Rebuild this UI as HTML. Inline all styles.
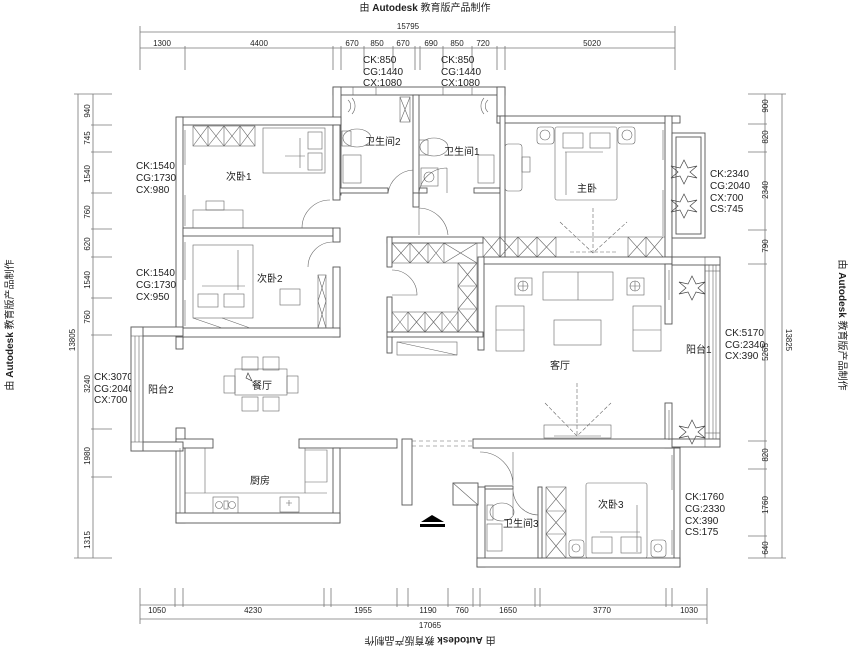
<!DOCTYPE html>
<html><head><meta charset="utf-8"><style>
html,body{margin:0;padding:0;background:#fff;}
svg{display:block;}
text{font-family:"Liberation Sans","Noto Sans CJK SC",sans-serif;fill:#222;}
.cn{font-family:"Noto Serif CJK SC","Liberation Serif",serif;font-size:10px;fill:#333;}
.d{font-size:8px;fill:#333;}
.ck{font-size:10px;fill:#222;}
</style></head><body>
<svg width="850" height="646" viewBox="0 0 850 646" xmlns="http://www.w3.org/2000/svg">
<g fill="none" stroke="#777" stroke-width="0.8">
<!-- top dims -->
<line x1="140" y1="32" x2="675" y2="32"/>
<line x1="140" y1="48" x2="675" y2="48"/>
<path d="M140 26V70M675 26V70M185 46V70M333 46V70M341 46V70M364 46V70M393 46V70M415 46V70M420 46V70M443 46V70M472 46V70M497 46V70M505 46V70"/>
<!-- bottom dims -->
<line x1="140" y1="605" x2="707" y2="605"/>
<line x1="140" y1="619" x2="707" y2="619"/>
<path d="M140 588V624M707 588V624M175 588V607M183 588V607M324 588V607M331 588V607M397 588V607M408 588V607M448 588V607M473 588V607M480 588V607M535 588V607M540 588V607M666 588V607M672 588V607"/>
<!-- left dims -->
<line x1="78" y1="94" x2="78" y2="558"/>
<line x1="93" y1="94" x2="93" y2="558"/>
<path d="M74 94H112M74 558H112M91 125H112M91 152H112M91 193H112M91 229H112M91 257H112M91 298H112M91 335H112M91 429H112M91 477H112"/>
<!-- right dims -->
<line x1="782" y1="94" x2="782" y2="558"/>
<line x1="765" y1="94" x2="765" y2="558"/>
<path d="M748 94H786M748 558H786M748 124H767M748 152H767M748 230H767M748 264H767M748 441H767M748 469H767M748 536H767"/>
</g>
<g class="d" text-anchor="middle">
<text x="408" y="29">15795</text>
<text x="162" y="46">1300</text><text x="259" y="46">4400</text>
<text x="352" y="46">670</text><text x="377" y="46">850</text><text x="403" y="46">670</text>
<text x="431" y="46">690</text><text x="457" y="46">850</text><text x="483" y="46">720</text>
<text x="592" y="46">5020</text>
<text x="157" y="613">1050</text><text x="253" y="613">4230</text><text x="363" y="613">1955</text>
<text x="428" y="613">1190</text><text x="462" y="613">760</text><text x="508" y="613">1650</text>
<text x="602" y="613">3770</text><text x="689" y="613">1030</text>
<text x="430" y="628">17065</text>
</g>
<g class="d" text-anchor="middle">
<text transform="translate(90,111) rotate(-90)">940</text>
<text transform="translate(90,138) rotate(-90)">745</text>
<text transform="translate(90,174) rotate(-90)">1540</text>
<text transform="translate(90,212) rotate(-90)">760</text>
<text transform="translate(90,244) rotate(-90)">620</text>
<text transform="translate(90,280) rotate(-90)">1540</text>
<text transform="translate(90,317) rotate(-90)">760</text>
<text transform="translate(90,384) rotate(-90)">3240</text>
<text transform="translate(90,456) rotate(-90)">1980</text>
<text transform="translate(90,540) rotate(-90)">1315</text>
<text transform="translate(75,340) rotate(-90)">13805</text>
<text transform="translate(768,106) rotate(-90)">900</text>
<text transform="translate(768,137) rotate(-90)">820</text>
<text transform="translate(768,190) rotate(-90)">2340</text>
<text transform="translate(768,246) rotate(-90)">790</text>
<text transform="translate(768,352) rotate(-90)">5265</text>
<text transform="translate(768,455) rotate(-90)">820</text>
<text transform="translate(768,505) rotate(-90)">1760</text>
<text transform="translate(768,548) rotate(-90)">640</text>
<text transform="translate(786,340) rotate(90)">13825</text>
</g>
<!-- watermarks -->
<g font-size="10" text-anchor="middle">
<text x="425" y="11"><tspan>由 </tspan><tspan font-weight="bold">Autodesk</tspan><tspan> 教育版产品制作</tspan></text>
<text transform="translate(430,637) rotate(180)"><tspan>由 </tspan><tspan font-weight="bold">Autodesk</tspan><tspan> 教育版产品制作</tspan></text>
<text transform="translate(13,325) rotate(-90)"><tspan>由 </tspan><tspan font-weight="bold">Autodesk</tspan><tspan> 教育版产品制作</tspan></text>
<text transform="translate(839,325) rotate(90)"><tspan>由 </tspan><tspan font-weight="bold">Autodesk</tspan><tspan> 教育版产品制作</tspan></text>
</g>
<!-- CK labels -->
<g class="ck">
<text x="363" y="63">CK:850</text><text x="363" y="75">CG:1440</text><text x="363" y="86">CX:1080</text>
<text x="441" y="63">CK:850</text><text x="441" y="75">CG:1440</text><text x="441" y="86">CX:1080</text>
<text x="136" y="169">CK:1540</text><text x="136" y="181">CG:1730</text><text x="136" y="193">CX:980</text>
<text x="136" y="276">CK:1540</text><text x="136" y="288">CG:1730</text><text x="136" y="300">CX:950</text>
<text x="94" y="380">CK:3070</text><text x="94" y="392">CG:2040</text><text x="94" y="403">CX:700</text>
<text x="710" y="177">CK:2340</text><text x="710" y="189">CG:2040</text><text x="710" y="201">CX:700</text><text x="710" y="212">CS:745</text>
<text x="725" y="336">CK:5170</text><text x="725" y="348">CG:2340</text><text x="725" y="359">CX:390</text>
<text x="685" y="500">CK:1760</text><text x="685" y="512">CG:2330</text><text x="685" y="524">CX:390</text><text x="685" y="535">CS:175</text>
</g>
<!-- walls -->
<g fill="#fff" stroke="#555" stroke-width="0.9">
<rect x="333" y="87" width="172" height="8"/>
<rect x="333" y="87" width="8" height="108"/>
<rect x="413" y="95" width="6" height="98"/>
<rect x="497" y="87" width="8" height="36"/>
<rect x="497" y="116" width="183" height="7"/>
<rect x="177" y="117" width="164" height="8"/>
<rect x="176" y="117" width="7" height="232"/>
<rect x="183" y="228" width="150" height="8"/>
<rect x="333" y="125" width="7" height="75"/>
<rect x="333" y="228" width="7" height="14"/>
<rect x="333" y="267" width="7" height="70"/>
<rect x="176" y="328" width="164" height="9"/>
<rect x="340" y="188" width="48" height="5"/>
<rect x="419" y="188" width="8" height="5"/>
<rect x="474" y="188" width="26" height="5"/>
<rect x="413" y="193" width="6" height="14"/>
<rect x="500" y="116" width="5" height="141"/>
<rect x="665" y="116" width="7" height="141"/>
<rect x="483" y="257" width="189" height="7"/>
<rect x="478" y="257" width="6" height="93"/>
<rect x="665" y="264" width="7" height="60"/>
<rect x="665" y="403" width="7" height="45"/>
<rect x="387" y="237" width="96" height="6"/>
<rect x="387" y="237" width="5" height="30"/>
<rect x="387" y="297" width="5" height="56"/>
<rect x="387" y="332" width="96" height="5"/>
<rect x="176" y="428" width="9" height="95"/>
<rect x="176" y="439" width="37" height="9"/>
<rect x="299" y="439" width="98" height="9"/>
<rect x="333" y="448" width="7" height="75"/>
<rect x="176" y="513" width="164" height="10"/>
<rect x="402" y="439" width="10" height="66"/>
<rect x="473" y="439" width="207" height="9"/>
<rect x="477" y="487" width="8" height="80"/>
<rect x="674" y="448" width="6" height="119"/>
<rect x="477" y="558" width="203" height="9"/>
<rect x="453" y="483" width="25" height="22"/>
<rect x="538" y="487" width="4" height="71"/>
<rect x="485" y="486" width="28" height="3"/>
<!-- balcony 2 -->
<rect x="131" y="327" width="52" height="9"/>
<rect x="131" y="442" width="52" height="9"/>
<rect x="131" y="327" width="12" height="124"/>
<!-- balcony 1 -->
<rect x="705" y="257" width="15" height="190"/>
<rect x="672" y="257" width="48" height="8"/>
<rect x="672" y="439" width="48" height="8"/>
<!-- master balcony -->
<rect x="672" y="133" width="33" height="105"/>
<rect x="676" y="137" width="25" height="97"/>
</g>
<g fill="none" stroke="#666" stroke-width="0.6">
<path d="M135 336V442M139 336V442M709 265V439M713 265V439M716 265V439M185 448V513M180 448V513"/>
<rect x="705" y="257" width="15" height="14"/><rect x="705" y="433" width="15" height="14"/>
<rect x="131" y="327" width="12" height="9"/><rect x="131" y="442" width="12" height="9"/>
<!-- dashed entrance -->
<path d="M412 441H473M412 446H473" stroke-dasharray="4,3"/>
<!-- kitchen inner counters -->
<path d="M205 448V493H305V448M305 450H327V482H305"/>
<path d="M185 493H205M305 493H327"/>
<rect x="213" y="497" width="25" height="16"/>
<circle cx="219" cy="505" r="3.5"/><circle cx="232" cy="505" r="3.5"/><rect x="224" y="501" width="4" height="8"/>
<rect x="280" y="497" width="19" height="15"/><path d="M289 500V506M286 503H292"/>
<!-- dining -->
<rect x="235" y="369" width="52" height="26"/>
<rect x="242" y="357" width="16" height="13"/><rect x="263" y="357" width="16" height="13"/>
<rect x="242" y="397" width="16" height="14"/><rect x="263" y="397" width="16" height="14"/>
<rect x="224" y="376" width="11" height="17"/><rect x="287" y="376" width="11" height="17"/>
<!-- bedroom 1 -->
<rect x="193" y="126" width="62" height="20"/>
<path d="M193 126L208 146M208 126L193 146M208 126L224 146M224 126L208 146M224 126L240 146M240 126L224 146M240 126L255 146M255 126L240 146M208 126V146M224 126V146M240 126V146"/>
<rect x="263" y="128" width="62" height="45"/>
<rect x="308" y="132" width="14" height="17"/><rect x="308" y="153" width="14" height="17"/>
<path d="M300 138V168M285 156H305"/>
<rect x="193" y="210" width="50" height="18"/><rect x="206" y="201" width="18" height="9"/>
<path d="M185 130V165M185 195V226"/>
<path d="M330 200A28 28 0 0 0 302 228" /><path d="M333 242A25 25 0 0 0 308 267"/>
<!-- bedroom 2 -->
<rect x="193" y="245" width="60" height="73"/>
<rect x="198" y="294" width="20" height="13"/><rect x="224" y="294" width="20" height="13"/>
<path d="M238 250V290M202 286H245M193 318L222 328M222 318L250 328"/>
<rect x="280" y="289" width="20" height="16"/>
<rect x="318" y="275" width="8" height="53"/>
<path d="M318 275L326 301M326 275L318 301M318 301L326 328M326 301L318 328"/>
<path d="M185 242V280M185 300V326"/>
<!-- bathrooms -->
<ellipse cx="357" cy="138" rx="14" ry="9"/><rect x="342" y="131" width="9" height="15"/>
<rect x="343" y="155" width="18" height="28"/>
<ellipse cx="434" cy="147" rx="14" ry="9"/><rect x="419" y="140" width="9" height="15"/>
<rect x="421" y="168" width="17" height="18"/><circle cx="429" cy="177" r="5"/>
<rect x="478" y="155" width="16" height="28"/>
<rect x="400" y="97" width="10" height="25"/><path d="M400 97L410 122M410 97L400 122"/>
<path d="M388 193A27 27 0 0 1 413 170M419 193A28 28 0 0 1 447 168M447 168V193"/>
<path d="M419 208A30 30 0 0 1 448 235M419 205V235"/>
<path d="M348 100a8 8 0 0 1 0 12M352 98a12 12 0 0 1 0 16M488 100a8 8 0 0 0 0 12M484 98a12 12 0 0 0 0 16"/>
<path d="M353 87V95M376 87V95M443 87V95M472 87V95"/>
<!-- master bedroom -->
<rect x="555" y="127" width="62" height="73" rx="2"/>
<rect x="563" y="133" width="20" height="15"/><rect x="590" y="133" width="20" height="15"/>
<path d="M565 152H603M566 152V195"/>
<rect x="537" y="127" width="17" height="17" rx="3"/><circle cx="545" cy="135" r="5"/>
<rect x="618" y="127" width="17" height="17" rx="3"/><circle cx="627" cy="135" r="5"/>
<rect x="505" y="144" width="17" height="47" rx="3"/><rect x="522" y="157" width="8" height="15"/>
<path d="M663 130V160M663 190V236"/>
<!-- wardrobe strip -->
<rect x="483" y="237" width="182" height="20"/>
<path d="M483 237L500 257M500 237L483 257M500 237L518 257M518 237L500 257M518 237L537 257M537 237L518 257M537 237L556 257M556 237L537 257M500 237V257M518 237V257M537 237V257M556 237V257"/>
<path d="M628 237L646 257M646 237L628 257M646 237L663 257M663 237L646 257M628 237V257M646 237V257"/>
<path d="M570 252H618M593 208V253M560 222L593 253L627 222" stroke-dasharray="4,2"/>
<!-- closet block -->
<rect x="392" y="243" width="85" height="20"/>
<path d="M392 243L410 263M410 243L392 263M410 243L428 263M428 243L410 263M428 243L444 263M444 243L428 263M444 243L477 263M477 243L444 263M410 243V263M428 243V263M444 243V263"/>
<rect x="458" y="263" width="19" height="69"/>
<path d="M458 263L477 286M477 263L458 286M458 286L477 309M477 286L458 309M458 309L477 332M477 309L458 332M458 286H477M458 309H477"/>
<rect x="392" y="312" width="66" height="20"/>
<path d="M392 312L408 332M408 312L392 332M408 312L425 332M425 312L408 332M425 312L442 332M442 312L425 332M442 312L458 332M458 312L442 332M408 312V332M425 312V332M442 312V332"/>
<path d="M392 270A25 25 0 0 1 417 295H392"/>
<rect x="397" y="342" width="60" height="13"/><path d="M397 342L457 355"/>
<!-- living -->
<rect x="543" y="272" width="70" height="28"/><path d="M578 272V300"/>
<rect x="515" y="278" width="17" height="17"/><circle cx="523" cy="286" r="5"/><path d="M518 286H528M523 281V291"/>
<rect x="627" y="278" width="17" height="17"/><circle cx="635" cy="286" r="5"/><path d="M630 286H640M635 281V291"/>
<rect x="496" y="306" width="28" height="45"/><path d="M496 330H524"/>
<rect x="633" y="306" width="28" height="45"/><path d="M633 330H661"/>
<rect x="554" y="320" width="47" height="25"/>
<rect x="544" y="425" width="67" height="13"/><path d="M554 436H601"/>
<path d="M577 383V436M545 403L577 436L611 403" stroke-dasharray="4,2"/>
<path d="M669 270V300M669 410V440"/>
<!-- bedroom 3 -->
<rect x="586" y="483" width="61" height="75" rx="2"/>
<rect x="592" y="537" width="20" height="16"/><rect x="621" y="537" width="20" height="16"/>
<path d="M600 532H640M637 505V552"/>
<rect x="569" y="540" width="15" height="17" rx="3"/><circle cx="576" cy="548" r="4"/>
<rect x="651" y="540" width="15" height="17" rx="3"/><circle cx="658" cy="548" r="4"/>
<rect x="546" y="487" width="20" height="71"/>
<path d="M546 487L566 511M566 487L546 511M546 511L566 534M566 511L546 534M546 534L566 558M566 534L546 558M546 511H566M546 534H566"/>
<ellipse cx="502" cy="512" rx="12" ry="9"/><rect x="487" y="505" width="6" height="15"/>
<rect x="487" y="524" width="15" height="27"/>
<path d="M513 489A26 26 0 0 0 538 515M513 489V515"/>
<path d="M480 452A33 33 0 0 1 513 485M513 452V485"/>
<path d="M453 483L478 505"/>
<path d="M672 455V490M672 530V555"/>
<!-- arrow -->
</g>
<path d="M421 522L432 515L444 522Z" fill="#000"/>
<rect x="420" y="524" width="25" height="3" fill="#000"/>
<!-- plants -->
<g fill="none" stroke="#444" stroke-width="0.7">
<path d="M684 160L688 168L697 166L690 172L697 178L688 176L684 184L680 176L671 178L678 172L671 166L680 168Z"/>
<path d="M684 194L688 202L697 200L690 206L697 212L688 210L684 218L680 210L671 212L678 206L671 200L680 202Z"/>
<path d="M692 276L696 284L705 282L698 288L705 294L696 292L692 300L688 292L679 294L686 288L679 282L688 284Z"/>
<path d="M692 420L696 428L705 426L698 432L705 438L696 436L692 444L688 436L679 438L686 432L679 426L688 428Z"/>
<path d="M248 373L252 381L246 378Z"/>
</g>
<!-- room labels -->
<g class="cn">
<text x="226" y="180">次卧1</text>
<text x="365" y="145">卫生间2</text>
<text x="444" y="155">卫生间1</text>
<text x="577" y="192">主卧</text>
<text x="257" y="282">次卧2</text>
<text x="148" y="393">阳台2</text>
<text x="252" y="389">餐厅</text>
<text x="550" y="369">客厅</text>
<text x="686" y="353">阳台1</text>
<text x="250" y="484">厨房</text>
<text x="598" y="508">次卧3</text>
<text x="503" y="527">卫生间3</text>
</g>
</svg>
</body></html>
